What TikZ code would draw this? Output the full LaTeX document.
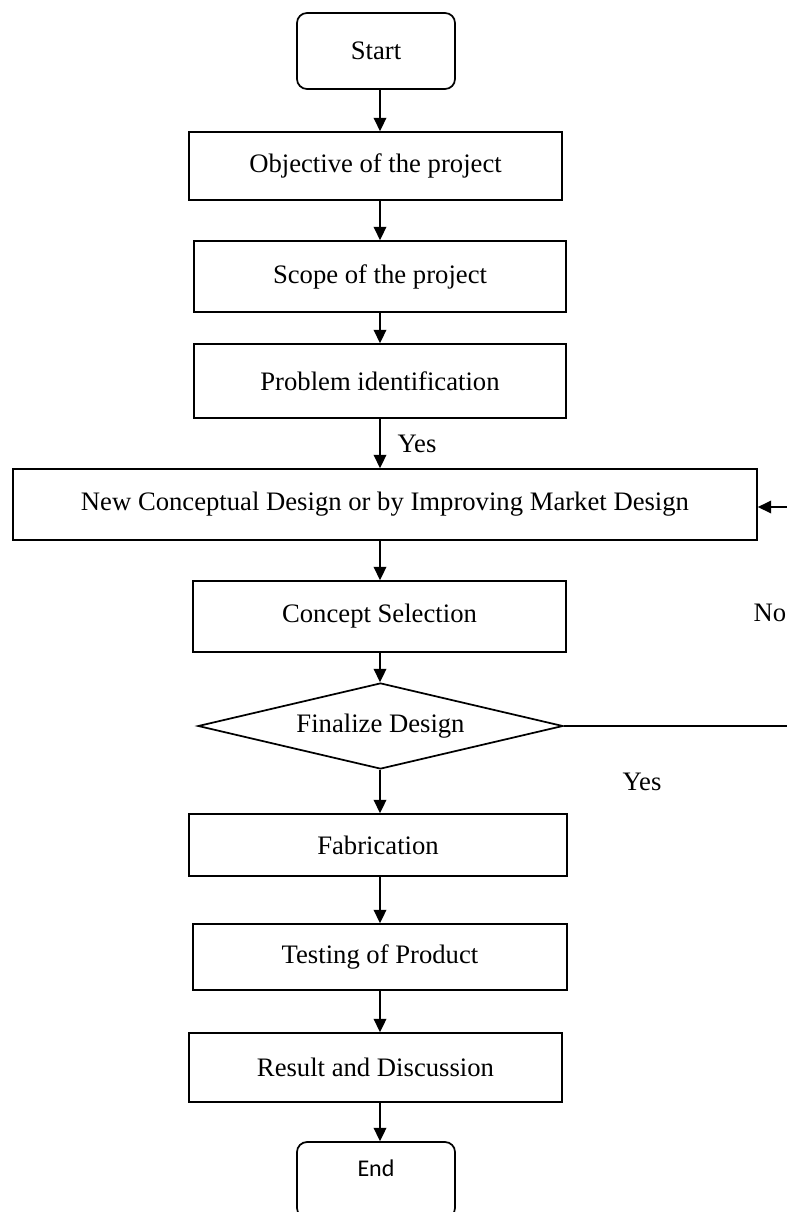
\documentclass[tikz,border=0pt]{standalone}
\usepackage{fontspec}
\setmainfont{Liberation Serif}
\newfontfamily\carlito{Carlito}
\usetikzlibrary{shapes, arrows.meta, positioning}
\newcommand{\px}{0.75pt}
\tikzstyle{base} = [font=\fontsize{20}{24}\selectfont]
\tikzstyle{terminal} = [base, rectangle, rounded corners=7.5pt, draw, line width=1.3pt, inner sep=0pt]
\tikzstyle{process} = [base, rectangle, draw, line width=1.3pt, inner sep=0pt]
\tikzstyle{decision} = [base, diamond, draw, aspect=4.2, line width=1.3pt, inner sep=0pt]
\tikzstyle{lbl} = [base, inner sep=0pt]
\tikzstyle{flow} = [-{Triangle[length=10pt, width=9.5pt]}, line width=1.3pt]

\begin{document}
\begin{tikzpicture}[x=\px, y=-\px]
  \useasboundingbox (0,0) rectangle (786,1212);

  % start
  \node[terminal, minimum width=158*\px, minimum height=76*\px] (start) at (376,51) {Start};

  % planning
  \node[process, minimum width=373*\px, minimum height=68*\px] (obj) at (375.5,166) {Objective of the project};
  \node[process, minimum width=372*\px, minimum height=71*\px] (scope) at (380,276.5) {Scope of the project};
  \node[process, minimum width=372*\px, minimum height=74*\px] (prob) at (380,381) {Problem identification};

  % design
  \node[process, minimum width=744*\px, minimum height=71*\px] (newd) at (385,504.5) {New Conceptual Design or by Improving Market Design};
  \node[process, minimum width=373*\px, minimum height=71*\px] (sel) at (379.5,616.5) {Concept Selection};
  \node[decision, minimum width=365*\px, minimum height=86*\px] (fin) at (380.5,726) {Finalize Design};

  % making
  \node[process, minimum width=378*\px, minimum height=62*\px] (fab) at (378,845) {Fabrication};
  \node[process, minimum width=374*\px, minimum height=66*\px] (test) at (380,957) {Testing of Product};
  \node[process, minimum width=373*\px, minimum height=69*\px] (res) at (375.5,1067.5) {Result and Discussion};

  % end
  \node[terminal, minimum width=158*\px, minimum height=76*\px, text depth=18pt, font=\carlito\fontsize{18}{22}\selectfont] (end) at (376,1180) {End};

  % labels
  \node[lbl] (yes1) at (417,444) {Yes};
  \node[lbl] (no) at (770,613) {No};
  \node[lbl] (yes2) at (642,782) {Yes};

  % main flow
  \coordinate (axis) at (380,0);
  \foreach \a/\b in {start/obj, obj/scope, scope/prob, prob/newd, newd/sel, sel/fin, fin/fab, fab/test, test/res, res/end}
    \draw[flow] (axis |- \a.south) -- (axis |- \b.north);

  % loop back
  \coordinate (back) at (790,507);
  \draw[flow] (fin.east) -| (back) -- (newd.east |- back);
\end{tikzpicture}
\end{document}
